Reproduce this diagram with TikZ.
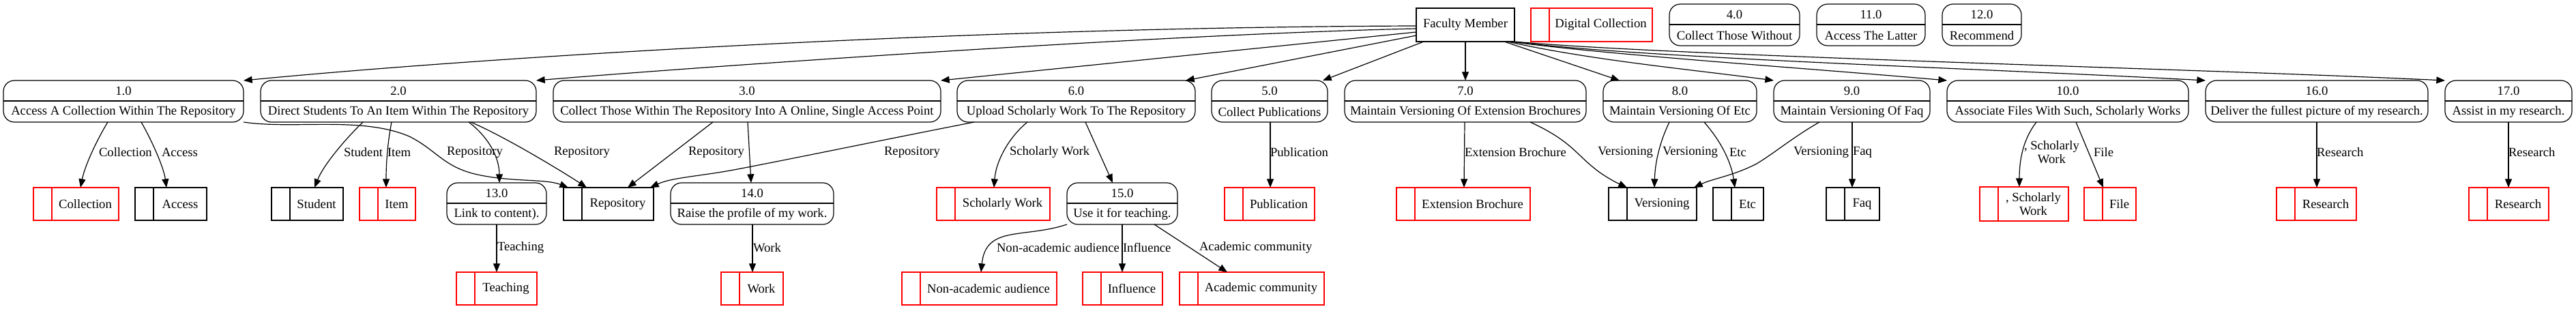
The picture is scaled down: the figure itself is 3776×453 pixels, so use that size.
\documentclass[tikz,border=0pt]{standalone}
\usepackage{fontspec}
\setmainfont{Liberation Serif}
\usetikzlibrary{arrows.meta,calc}
\tikzset{
  every node/.style={font=\fontsize{14}{15.5}\selectfont, inner sep=0pt, outer sep=0pt},
  pbox/.style={draw, line width=0.9pt, rounded corners=12pt, anchor=north west, minimum height=45.75pt},
  sbox/.style={draw, line width=0.9pt, anchor=north west},
  flow/.style={line width=0.9pt, -{Triangle[length=9.5pt,width=7.5pt]}},
  lbl/.style={anchor=west, align=center},
}
\newcommand\myproc[6]{%
  \pgfmathsetmacro\mpw{(#3-#2)*0.75}%
  \pgfmathsetmacro\mpd{#4+30}%
  \pgfmathsetmacro\mpc{(#2+#3)/2}%
  \pgfmathsetmacro\mpa{#4+15}%
  \pgfmathsetmacro\mpb{#4+46}%
  \node[pbox, minimum width=\mpw pt] (#1) at (#2,#4) {};
  \draw[line width=0.9pt] (#1.west |- 0,\mpd) -- (#1.east |- 0,\mpd);
  \node (#1-num) at (\mpc,\mpa) {#5};
  \node (#1-txt) at (\mpc,\mpb) {#6};
}
\newcommand\mystore[7]{%
  \pgfmathsetmacro\msw{(#3-#2)*0.75}%
  \pgfmathsetmacro\msh{(#5-#4)*0.75}%
  \pgfmathsetmacro\msd{#2+27}%
  \pgfmathsetmacro\msx{(#2+27+#3)/2}%
  \pgfmathsetmacro\msy{(#4+#5)/2}%
  \node[sbox, draw=#6, minimum width=\msw pt, minimum height=\msh pt] (#1) at (#2,#4) {};
  \draw[#6, line width=0.9pt] (\msd,#4) -- (\msd,#5);
  \node[align=center] (#1-txt) at (\msx,\msy) {#7};
}
\begin{document}
\begin{tikzpicture}[x=0.75pt, y=-0.75pt]
\useasboundingbox[fill=white] (0,0) rectangle (3776,453);

% top row
\node[sbox, minimum width=108pt, minimum height=36.75pt] (fm) at (2076,12) {Faculty Member};
\mystore{sDig}{2244}{2422}{12}{61}{red}{Digital Collection}
\myproc{p4}{2447}{2638}{6}{4.0}{Collect Those Without}
\myproc{p11}{2663}{2822}{6}{11.0}{Access The Latter}
\myproc{p12}{2847}{2963}{6}{12.0}{Recommend}

% process row
\myproc{p1}{5}{357}{118}{1.0}{Access A Collection Within The Repository}
\myproc{p2}{382}{786}{118}{2.0}{Direct Students To An Item Within The Repository}
\myproc{p3}{811}{1379}{118}{3.0}{Collect Those Within The Repository Into A Online, Single Access Point}
\myproc{p6}{1403}{1752}{118}{6.0}{Upload Scholarly Work To The Repository}
\myproc{p5}{1776}{1946}{118}{5.0}{Collect Publications}
\myproc{p7}{1971}{2325}{118}{7.0}{Maintain Versioning Of Extension Brochures}
\myproc{p8}{2350}{2575}{118}{8.0}{Maintain Versioning Of Etc}
\myproc{p9}{2600}{2829}{118}{9.0}{Maintain Versioning Of Faq}
\myproc{p10}{2854}{3208}{118}{10.0}{Associate Files With Such, Scholarly Works}
\myproc{p16}{3233}{3559}{118}{16.0}{Deliver the fullest picture of my research.}
\myproc{p17}{3584}{3770}{118}{17.0}{Assist in my research.}

% second level processes
\myproc{p13}{655}{801}{268}{13.0}{Link to content).}
\myproc{p14}{983}{1222}{268}{14.0}{Raise the profile of my work.}
\myproc{p15}{1564}{1726}{268}{15.0}{Use it for teaching.}

% stores row
\mystore{sColl}{49}{174}{275}{323}{red}{Collection}
\mystore{sAccess}{198}{303}{275}{323}{black}{Access}
\mystore{sStudent}{398}{503}{275}{323}{black}{Student}
\mystore{sItem}{527}{609}{275}{323}{red}{Item}
\mystore{sRepo}{826}{958}{275}{323}{black}{Repository}
\mystore{sSchol}{1373}{1539}{275}{323}{red}{Scholarly Work}
\mystore{sPub}{1795}{1927}{275}{323}{red}{Publication}
\mystore{sExt}{2047}{2243}{275}{323}{red}{Extension Brochure}
\mystore{sVers}{2358}{2487}{275}{323}{black}{Versioning}
\mystore{sEtc}{2511}{2585}{275}{323}{black}{Etc}
\mystore{sFaq}{2677}{2755}{275}{323}{black}{Faq}
\mystore{sSchol2}{2902}{3032}{274}{324}{red}{, Scholarly\\Work}
\mystore{sFile}{3055}{3131}{275}{323}{red}{File}
\mystore{sRes1}{3337}{3454}{275}{323}{red}{Research}
\mystore{sRes2}{3619}{3736}{275}{323}{red}{Research}

% third level stores
\mystore{sTeach}{669}{787}{399}{447}{red}{Teaching}
\mystore{sWork}{1057}{1148}{399}{447}{red}{Work}
\mystore{sNonAc}{1322}{1549}{399}{447}{red}{Non-academic audience}
\mystore{sInfl}{1587}{1704}{399}{447}{red}{Influence}
\mystore{sAcad}{1729}{1941}{399}{447}{red}{Academic community}

% Faculty Member flows
\draw[flow] (fm.west |- 0,38) .. controls (1400,40) and (700,85) .. (p1.north east);
\draw[flow] (fm.west |- 0,42) .. controls (1700,50) and (1000,100) .. (p2.north east);
\draw[flow] (fm.west |- 0,47) -- (p3.north east);
\draw[flow] (fm.west |- 0,52) -- (1738,0 |- p6.north);
\draw[flow] (2087,0 |- fm.south) -- (1939,0 |- p5.north);
\draw[flow] (fm.south) -- (p7.north);
\draw[flow] (2205,0 |- fm.south) -- (2374,0 |- p8.north);
\draw[flow] (2210,0 |- fm.south) .. controls (2330,88) and (2480,102) .. (p9.north west);
\draw[flow] (2214,0 |- fm.south) .. controls (2350,80) and (2650,100) .. (p10.north west);
\draw[flow] (2217,0 |- fm.south) .. controls (2400,85) and (2900,100) .. (p16.north west);
\draw[flow] (fm.south east) .. controls (2450,82) and (3200,100) .. (p17.north west);

% process flows
\draw[flow] (158,0 |- p1.south) .. controls (145,200) and (125,240) .. (118,0 |- sColl.north);
\draw[flow] (207,0 |- p1.south) .. controls (222,205) and (240,245) .. (244,0 |- sAccess.north);
\draw[flow] (p1.south east) .. controls (430,190) and (530,170) .. (600,200) .. controls (640,220) and (650,245) .. (700,256) .. controls (750,267) and (800,262) .. (833,0 |- sRepo.north);
\draw[flow] (532,0 |- p2.south) .. controls (510,200) and (475,240) .. (461,0 |- sStudent.north);
\draw[flow] (574,0 |- p2.south) .. controls (568,210) and (566,240) .. (566,0 |- sItem.north);
\draw[flow] (687,0 |- p2.south) .. controls (715,200) and (732,230) .. (732,0 |- p13.north);
\draw[flow] (690,0 |- p2.south) .. controls (740,200) and (830,255) .. (860,0 |- sRepo.north);
\draw[flow] (1045,0 |- p3.south) -- (920,0 |- sRepo.north);
\draw[flow] (1096,0 |- p3.south) -- (1101,0 |- p14.north);
\draw[flow] (728,0 |- p13.south) -- (728,0 |- sTeach.north);
\draw[flow] (1103,0 |- p14.south) -- (1103,0 |- sWork.north);
\draw[flow] (1428,0 |- p6.south) .. controls (1300,204) and (1150,235) .. (1081,248) .. controls (1030,258) and (985,260) .. (953,0 |- sRepo.north);
\draw[flow] (1506,0 |- p6.south) .. controls (1480,200) and (1460,235) .. (1457,0 |- sSchol.north);
\draw[flow] (1591,0 |- p6.south) -- (1631,0 |- p15.north);
\draw[flow] (p15.south west) .. controls (1500,350) and (1445,330) .. (1438,0 |- sNonAc.north);
\draw[flow] (1645,0 |- p15.south) -- (1645,0 |- sInfl.north);
\draw[flow] (1692,0 |- p15.south) -- (1799,0 |- sAcad.north);
\draw[flow] (1862,0 |- p5.south) -- (1862,0 |- sPub.north);
\draw[flow] (2147,0 |- p7.south) -- (2146,0 |- sExt.north);
\draw[flow] (2243,0 |- p7.south) .. controls (2300,205) and (2310,225) .. (2335,245) .. controls (2350,258) and (2370,268) .. (2385,0 |- sVers.north);
\draw[flow] (2447,0 |- p8.south) .. controls (2432,210) and (2426,240) .. (2425,0 |- sVers.north);
\draw[flow] (2498,0 |- p8.south) .. controls (2525,210) and (2538,240) .. (2543,0 |- sEtc.north);
\draw[flow] (2667,0 |- p9.south) .. controls (2630,200) and (2600,225) .. (2575,240) .. controls (2540,258) and (2510,262) .. (2483,0 |- sVers.north);
\draw[flow] (2715,0 |- p9.south) -- (2715,0 |- sFaq.north);
\draw[flow] (2985,0 |- p10.south) .. controls (2965,205) and (2960,235) .. (2960,0 |- sSchol2.north);
\draw[flow] (3043,0 |- p10.south) -- (3083,0 |- sFile.north);
\draw[flow] (p16.south) -- (sRes1.north -| p16.south);
\draw[flow] (p17.south) -- (sRes2.north -| p17.south);

% flow labels
\node[lbl] (l1) at (145,223) {Collection};
\node[lbl] (l2) at (237,223) {Access};
\node[lbl] (l3) at (504,223) {Student};
\node[lbl] (l4) at (568,223) {Item};
\node[lbl] (l5) at (655,223) {Repository};
\node[lbl] (l6) at (812,223) {Repository};
\node[lbl] (l7) at (1009,223) {Repository};
\node[lbl] (l8) at (1296,223) {Repository};
\node[lbl] (l9) at (1480,223) {Scholarly Work};
\node[lbl] (l10) at (1862,223) {Publication};
\node[lbl] (l11) at (2147,223) {Extension Brochure};
\node[lbl] (l12) at (2342,223) {Versioning};
\node[lbl] (l13) at (2437,223) {Versioning};
\node[lbl] (l14) at (2535,223) {Etc};
\node[lbl] (l15) at (2629,223) {Versioning};
\node[lbl] (l16) at (2716,223) {Faq};
\node[lbl] (l17) at (2967,223) {, Scholarly\\Work};
\node[lbl] (l18) at (3069,223) {File};
\node[lbl] (l19) at (3396,223) {Research};
\node[lbl] (l20) at (3677,223) {Research};
\node[lbl] (l21) at (729,363) {Teaching};
\node[lbl] (l22) at (1104,363) {Work};
\node[lbl] (l23) at (1461,363) {Non-academic audience};
\node[lbl] (l24) at (1646,363) {Influence};
\node[lbl] (l25) at (1758,363) {Academic community};
\end{tikzpicture}
\end{document}
